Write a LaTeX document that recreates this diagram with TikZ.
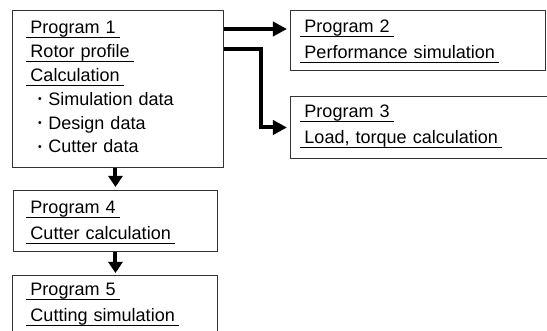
\documentclass[tikz,border=0pt]{standalone}
\usepackage{fontspec}
\setmainfont{Liberation Sans}
\usetikzlibrary{arrows.meta,positioning}

% underlined line of text, rule a little wider than the words
\newcommand\ulbox[1]{\leavevmode\setbox0=\hbox{\hspace{3.4pt}#1\hspace{3.4pt}}\rlap{\rule[-3.8pt]{\wd0}{0.75pt}}\box0}
% bulleted data line
\newcommand\dotitem[1]{\leavevmode\hspace{10pt}\raisebox{2.4pt}{\fontsize{9}{9}\selectfont •}\hspace{5.5pt}#1}

\tikzset{
  prog/.style={draw=black!80, line width=0.8pt, anchor=north west, align=left,
    inner ysep=0pt, inner xsep=0.42cm, font=\fontsize{15.4pt}{22.1pt}\selectfont},
  flow/.style={line width=3.4pt, -{Triangle[length=12pt,width=12pt]}},
}

\begin{document}
\begin{tikzpicture}[x=0.03cm, y=-0.03cm]
\useasboundingbox (0,0) rectangle (547,331);
\clip (0,0) rectangle (547,331);

% program boxes
\node[prog, text width=5.49cm, text height=0.69cm, text depth=4.02cm,
  font=\fontsize{15.4pt}{20.4pt}\selectfont] (p1) at (12,10)
  {\ulbox{Program 1}\\ \ulbox{Rotor profile}\\ \ulbox{Calculation}\\
   \dotitem{Simulation data}\\ \dotitem{Design data}\\ \dotitem{Cutter data}};
\node[prog, inner xsep=0.3cm, text width=7.05cm, text height=0.66cm, text depth=1.14cm] (p2) at (290,10)
  {\ulbox{Program 2}\\ \ulbox{Performance simulation}};
\node[prog, inner xsep=0.3cm, text width=7.5cm, text height=0.63cm, text depth=1.23cm] (p3) at (290,96)
  {\ulbox{Program 3}\\ \ulbox{Load, torque calculation}};
\node[prog, inner xsep=0.39cm, text width=5.34cm, text height=0.69cm, text depth=1.14cm] (p4) at (13,190)
  {\ulbox{Program 4}\\ \ulbox{Cutter calculation}};
\node[prog, text width=5.31cm, text height=0.6cm, text depth=1.8cm] (p5) at (12,275)
  {\ulbox{Program 5}\\ \ulbox{Cutting simulation}};

% data flow
\draw[flow, shorten >=0.09cm] ([yshift=-0.57cm]p1.north east) -- ([yshift=-0.57cm]p2.north west);
\draw[flow, shorten >=0.09cm] ([yshift=-1.17cm]p1.north east) -| ([xshift=-0.87cm]p3.west) -- (p3.west);
\draw[flow, -{Triangle[length=9.5pt,width=12pt]}, shorten >=0.09cm] (p4.north |- p1.south) -- (p4.north);
\draw[flow, -{Triangle[length=9.5pt,width=12pt]}, shorten >=0.06cm] (p4.south) -- (p4.south |- p5.north);
\end{tikzpicture}
\end{document}
